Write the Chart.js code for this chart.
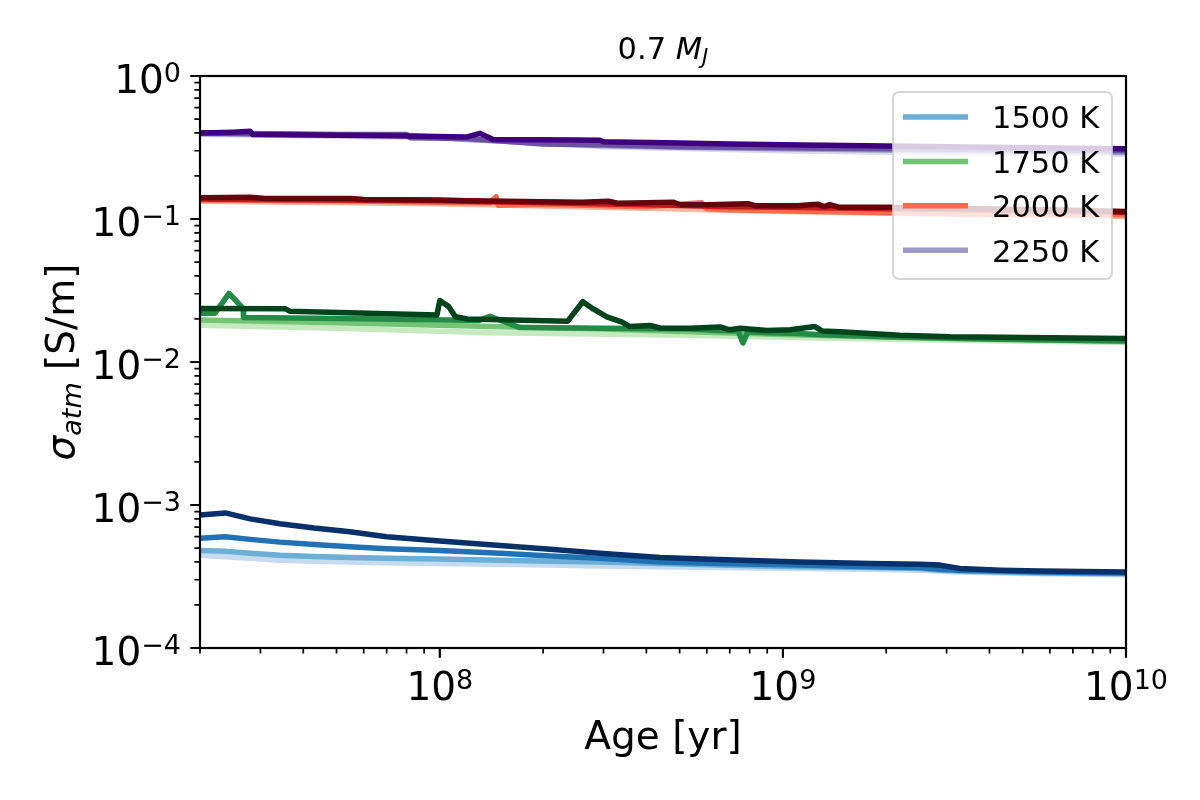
<!DOCTYPE html>
<html>
<head>
<meta charset="utf-8">
<title>sigma_atm vs age</title>
<script src="https://cdn.jsdelivr.net/npm/chart.js@4.4.1/dist/chart.umd.min.js"></script>
<style>
  html, body { margin: 0; padding: 0; background: #fff; }
  #wrap { position: relative; width: 1200px; height: 800px; }
</style>
</head>
<body>
<div id="wrap"><canvas id="sigmaChart"></canvas></div>
<script>
// ---- data (age in yr, sigma in S/m) ----
const temperatures = ["1500 K", "1750 K", "2000 K", "2250 K"];

// 1500 K
const blueAges = [2e7, 2.37e7, 2.8e7, 3.42e7, 4.3e7, 5.47e7, 7e7, 1e8, 1.5e8, 2.1e8, 2.93e8, 4.39e8, 6.5e8, 1.12e9, 1.8e9, 2.5e9, 2.87e9, 3.28e9, 4.3e9, 5.62e9, 1e10];
const blue1 = [4.45e-4, 4.35e-4, 4.25e-4, 4.1e-4, 4.05e-4, 4.0e-4, 3.95e-4, 3.9e-4, 3.85e-4, 3.8e-4, 3.75e-4, 3.7e-4, 3.65e-4, 3.6e-4, 3.55e-4, 3.5e-4, 3.45e-4, 3.4e-4, 3.35e-4, 3.3e-4, 3.25e-4];
const blue2 = [4.8e-4, 4.75e-4, 4.6e-4, 4.45e-4, 4.37e-4, 4.3e-4, 4.25e-4, 4.2e-4, 4.1e-4, 4.05e-4, 4.0e-4, 3.9e-4, 3.8e-4, 3.7e-4, 3.65e-4, 3.6e-4, 3.5e-4, 3.45e-4, 3.4e-4, 3.35e-4, 3.3e-4];
const blue3 = [5.85e-4, 6.0e-4, 5.75e-4, 5.5e-4, 5.3e-4, 5.1e-4, 4.95e-4, 4.8e-4, 4.6e-4, 4.4e-4, 4.25e-4, 4.0e-4, 3.9e-4, 3.8e-4, 3.7e-4, 3.65e-4, 3.55e-4, 3.5e-4, 3.45e-4, 3.4e-4, 3.35e-4];
const blue4 = [8.5e-4, 8.8e-4, 8.0e-4, 7.4e-4, 6.9e-4, 6.5e-4, 6.0e-4, 5.6e-4, 5.2e-4, 4.9e-4, 4.6e-4, 4.3e-4, 4.15e-4, 4.0e-4, 3.9e-4, 3.85e-4, 3.8e-4, 3.6e-4, 3.5e-4, 3.45e-4, 3.4e-4];

// 1750 K
const greenAges1 = [2e7, 5e7, 1.4e8, 5.36e8, 1.5e9, 4e9, 1e10];
const green1 = [0.0181, 0.0172, 0.0160, 0.0154, 0.0146, 0.0141, 0.0137];
const greenAges2 = [2e7, 5e7, 1.4e8, 3e8, 5.36e8, 1e9, 1.5e9, 3e9, 1e10];
const green2 = [0.0197, 0.0188, 0.0177, 0.0170, 0.0163, 0.0156, 0.0152, 0.0146, 0.0139];
const greenAges3 = [2e7, 2.21e7, 2.43e7, 2.67e7, 2.68e7, 6e7, 1.3e8, 1.4e8, 1.71e8, 3e8, 5.36e8, 6.5e8, 7.4e8, 7.65e8, 7.9e8, 9e8, 1.1e9, 1.3e9, 2e9, 4e9, 1e10];
const green3 = [0.0219, 0.0219, 0.0302, 0.0237, 0.0205, 0.0201, 0.0195, 0.0209, 0.0174, 0.0172, 0.0170, 0.0166, 0.0165, 0.0136, 0.0163, 0.0160, 0.0158, 0.0155, 0.0150, 0.0145, 0.0140];
const greenAges4 = [2e7, 3.54e7, 3.66e7, 9.81e7, 1.0e8, 1.06e8, 1.11e8, 1.2e8, 2.36e8, 2.61e8, 2.8e8, 3.07e8, 3.4e8, 3.58e8, 4.1e8, 4.39e8, 5.36e8, 6.56e8, 7.0e8, 7.5e8, 9e8, 1.05e9, 1.24e9, 1.3e9, 1.47e9, 2.19e9, 3.07e9, 1e10];
const green4 = [0.0237, 0.0236, 0.0226, 0.0213, 0.0269, 0.0245, 0.0207, 0.0200, 0.0193, 0.0264, 0.0235, 0.0207, 0.0190, 0.0177, 0.0180, 0.0173, 0.0172, 0.0176, 0.0168, 0.0172, 0.0166, 0.0168, 0.0177, 0.0165, 0.0163, 0.0154, 0.0150, 0.0146];

// 2000 K
const redAges1 = [2e7, 1e8, 4e8, 1e9, 3e9, 1e10];
const red1 = [0.133, 0.128, 0.119, 0.113, 0.108, 0.104];
const redAges2 = [2e7, 5e7, 1e8, 1.4e8, 1.46e8, 1.48e8, 2e8, 4e8, 5.8e8, 6e8, 7e8, 1e9, 2e9, 4e9, 1e10];
const red2 = [0.136, 0.134, 0.131, 0.130, 0.143, 0.125, 0.127, 0.122, 0.130, 0.118, 0.116, 0.114, 0.111, 0.108, 0.107];
const redAges3 = [2e7, 5e7, 1e8, 2e8, 4e8, 7e8, 1e9, 2e9, 4e9, 1e10];
const red3 = [0.138, 0.136, 0.134, 0.130, 0.126, 0.122, 0.121, 0.118, 0.115, 0.111];
const redAges4 = [2e7, 2.8e7, 3.1e7, 5.5e7, 6e7, 1e8, 1.2e8, 2e8, 2.6e8, 3.1e8, 3.3e8, 4.8e8, 5e8, 6e8, 7.9e8, 8.3e8, 1.1e9, 1.26e9, 1.32e9, 1.37e9, 1.45e9, 2e9, 3e9, 4.5e9, 6e9, 8e9, 1e10];
const red4 = [0.141, 0.142, 0.139, 0.139, 0.137, 0.136, 0.134, 0.132, 0.131, 0.133, 0.129, 0.131, 0.126, 0.126, 0.128, 0.124, 0.124, 0.127, 0.122, 0.126, 0.121, 0.121, 0.119, 0.117, 0.116, 0.114, 0.113];

// 2250 K
const purpleAges1 = [2e7, 1e8, 3e8, 1e9, 3e9, 1e10];
const purple1 = [0.39, 0.37, 0.32, 0.30, 0.29, 0.285];
const purpleAges2 = [2e7, 8e7, 1.2e8, 3e8, 5e8, 1e9, 3e9, 1e10];
const purple2 = [0.395, 0.385, 0.36, 0.325, 0.318, 0.31, 0.30, 0.292];
const purpleAges3 = [2e7, 5e7, 8e7, 8.2e7, 1.2e8, 2e8, 3e8, 5e8, 1e9, 3e9, 1e10];
const purple3 = [0.40, 0.39, 0.39, 0.37, 0.365, 0.335, 0.33, 0.32, 0.315, 0.307, 0.30];
const purpleAges4 = [2e7, 2.5e7, 2.8e7, 2.85e7, 5e7, 8e7, 1.2e8, 1.31e8, 1.43e8, 2.5e8, 2.93e8, 3.0e8, 5e8, 7e8, 1e9, 2e9, 4e9, 1e10];
const purple4 = [0.40, 0.405, 0.41, 0.39, 0.385, 0.38, 0.375, 0.397, 0.36, 0.357, 0.355, 0.347, 0.340, 0.335, 0.33, 0.324, 0.318, 0.31];

// axis ticks
const xMajorTicks = [1e8, 1e9, 1e10];
const xTickExps = ["8", "9", "10"];
const yMajorTicks = [1, 1e-1, 1e-2, 1e-3, 1e-4];
const yTickExps = ["0", "\u22121", "\u22122", "\u22123", "\u22124"];

// colours, light -> dark
const blueShades = ["#c6dbef", "#6baed6", "#2171b5", "#08306b"];
const greenShades = ["#c7e9c0", "#74c476", "#238b45", "#00441b"];
const redShades = ["#fcbba1", "#fb6a4a", "#cb181d", "#67000d"];
const purpleShades = ["#dadaeb", "#9e9ac8", "#6a51a3", "#3f007d"];

const FONT = "'DejaVu Sans', 'Liberation Sans', sans-serif";

function toPoints(ages, values) {
  return ages.map((a, i) => ({ x: a, y: values[i] }));
}

const groups = [
  { label: temperatures[0], shades: blueShades, lines: [[blueAges, blue1], [blueAges, blue2], [blueAges, blue3], [blueAges, blue4]] },
  { label: temperatures[1], shades: greenShades, lines: [[greenAges1, green1], [greenAges2, green2], [greenAges3, green3], [greenAges4, green4]] },
  { label: temperatures[2], shades: redShades, lines: [[redAges1, red1], [redAges2, red2], [redAges3, red3], [redAges4, red4]] },
  { label: temperatures[3], shades: purpleShades, lines: [[purpleAges1, purple1], [purpleAges2, purple2], [purpleAges3, purple3], [purpleAges4, purple4]] },
];

const datasets = [];
groups.forEach((g) => {
  g.lines.forEach(([ages, vals], k) => {
    datasets.push({
      label: k === 1 ? g.label : "",
      data: toPoints(ages, vals),
      borderColor: g.shades[k],
      backgroundColor: g.shades[k],
      borderWidth: 5.5,
      pointRadius: 0,
      tension: 0,
      borderJoinStyle: "round",
      order: -datasets.length,
    });
  });
});

function drawPower(ctx, exp, px, baseline, align) {
  ctx.font = `39px ${FONT}`;
  const wBase = ctx.measureText("10").width;
  ctx.font = `27px ${FONT}`;
  const wExp = ctx.measureText(exp).width;
  const total = wBase + wExp;
  const left = align === "right" ? px - total : px - total / 2;
  ctx.textAlign = "left";
  ctx.textBaseline = "alphabetic";
  ctx.font = `39px ${FONT}`;
  ctx.fillText("10", left, baseline);
  ctx.font = `27px ${FONT}`;
  ctx.fillText(exp, left + wBase, baseline - 11);
}

function drawPieces(ctx, pieces, cx, baseline) {
  // pieces: [text, font, dy]
  let total = 0;
  pieces.forEach((p) => { ctx.font = p[1]; total += ctx.measureText(p[0]).width; });
  let x = cx - total / 2;
  ctx.textAlign = "left";
  ctx.textBaseline = "alphabetic";
  pieces.forEach((p) => {
    ctx.font = p[1];
    ctx.fillText(p[0], x, baseline + p[2]);
    x += ctx.measureText(p[0]).width;
  });
}

const axesDecor = {
  id: "axesDecor",
  afterDatasetsDraw(chart) {
    const { ctx, chartArea: a, scales } = chart;
    const xs = scales.x;
    const ys = scales.y;
    ctx.save();
    ctx.fillStyle = "#000";
    ctx.strokeStyle = "#000";

    // frame
    ctx.lineWidth = 2.2;
    ctx.strokeRect(a.left, a.top, a.right - a.left, a.bottom - a.top);

    // minor ticks
    ctx.lineWidth = 1.7;
    ctx.beginPath();
    for (let d = 7; d < 10; d++) {
      for (let m = 2; m <= 9; m++) {
        const v = m * Math.pow(10, d);
        if (v < xs.min || v > xs.max) continue;
        const px = xs.getPixelForValue(v);
        ctx.moveTo(px, a.bottom);
        ctx.lineTo(px, a.bottom + 5.6);
      }
    }
    for (let d = -4; d < 0; d++) {
      for (let m = 2; m <= 9; m++) {
        const py = ys.getPixelForValue(m * Math.pow(10, d));
        ctx.moveTo(a.left, py);
        ctx.lineTo(a.left - 5.6, py);
      }
    }
    ctx.stroke();

    // major ticks
    ctx.lineWidth = 2.2;
    ctx.beginPath();
    xMajorTicks.forEach((v) => {
      const px = xs.getPixelForValue(v);
      ctx.moveTo(px, a.bottom);
      ctx.lineTo(px, a.bottom + 9.7);
    });
    yMajorTicks.forEach((v) => {
      const py = ys.getPixelForValue(v);
      ctx.moveTo(a.left, py);
      ctx.lineTo(a.left - 9.7, py);
    });
    ctx.stroke();

    // tick labels
    xMajorTicks.forEach((v, i) => drawPower(ctx, xTickExps[i], xs.getPixelForValue(v), a.bottom + 52, "center"));
    yMajorTicks.forEach((v, i) => drawPower(ctx, yTickExps[i], a.left - 19, ys.getPixelForValue(v) + 17, "right"));

    const cx = (a.left + a.right) / 2;
    const cy = (a.top + a.bottom) / 2;

    // x label
    drawPieces(ctx, [["Age [yr]", `39px ${FONT}`, 0]], cx, a.bottom + 101);

    // y label
    ctx.save();
    ctx.translate(74, cy);
    ctx.rotate(-Math.PI / 2);
    drawPieces(ctx, [
      ["\u03c3", `italic 39px ${FONT}`, 0],
      ["atm", `italic 27px ${FONT}`, 7],
      [" [S/m]", `39px ${FONT}`, 0],
    ], 0, 0);
    ctx.restore();

    // title
    drawPieces(ctx, [
      ["0.7 ", `30.5px ${FONT}`, 0],
      ["M", `italic 30.5px ${FONT}`, 0],
      ["J", `italic 21.5px ${FONT}`, 4.5],
    ], cx, a.top - 16.7);

    // legend
    const items = chart.data.datasets.filter((d) => d.label);
    const bx = 893, by = 92, bw = 219, bh = 187, r = 6;
    ctx.beginPath();
    ctx.roundRect(bx, by, bw, bh, r);
    ctx.fillStyle = "rgba(255,255,255,0.8)";
    ctx.fill();
    ctx.lineWidth = 2;
    ctx.strokeStyle = "rgba(204,204,204,0.8)";
    ctx.stroke();
    items.forEach((d, i) => {
      const rowY = 117 + i * 44.4;
      ctx.strokeStyle = d.borderColor;
      ctx.lineWidth = 5.5;
      ctx.beginPath();
      ctx.moveTo(903, rowY);
      ctx.lineTo(968, rowY);
      ctx.stroke();
      ctx.fillStyle = "#000";
      ctx.font = `30.5px ${FONT}`;
      ctx.textAlign = "left";
      ctx.textBaseline = "alphabetic";
      ctx.fillText(d.label, 992, rowY + 11.3);
    });

    ctx.restore();
  },
};

new Chart(document.getElementById("sigmaChart"), {
  type: "line",
  data: { datasets },
  options: {
    responsive: true,
    maintainAspectRatio: false,
    animation: false,
    events: [],
    layout: { padding: { left: 200, right: 74, top: 76, bottom: 152 } },
    scales: {
      x: { type: "logarithmic", min: 2e7, max: 1e10, display: false },
      y: { type: "logarithmic", min: 1e-4, max: 1, display: false },
    },
    plugins: {
      legend: { display: false },
      tooltip: { enabled: false },
    },
  },
  plugins: [axesDecor],
});
</script>
</body>
</html>
